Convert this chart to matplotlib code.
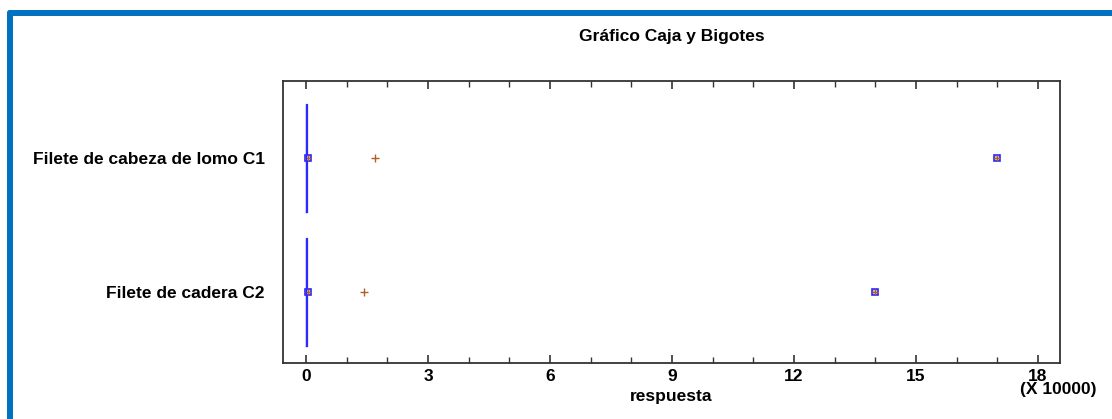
import matplotlib
matplotlib.use('Agg')
import matplotlib.pyplot as plt
from matplotlib.lines import Line2D
from matplotlib.ticker import MultipleLocator

# valores en unidades de 10000
categories = ['Filete de cabeza de lomo C1', 'Filete de cadera C2']
positions = [1, 0]
q1 = [0.0, 0.0]
medians = [0.005, 0.005]
q3 = [0.01, 0.01]
whisker_low = [0.0, 0.0]
whisker_high = [0.02, 0.02]
means = [1.70, 1.43]
near_outliers = [[0.04], [0.04]]
far_outliers = [[16.98], [14.0]]

plt.rcParams['font.family'] = ['Liberation Sans', 'DejaVu Sans']
plt.rcParams['font.weight'] = 'bold'
fs = 12.5

fig = plt.figure(figsize=(11.12, 4.19), dpi=100)
ax = fig.add_axes([0.2545, 0.1337, 0.6987, 0.673])

stats = []
for i in range(len(categories)):
    stats.append({
        'label': categories[i],
        'q1': q1[i], 'med': medians[i], 'q3': q3[i],
        'whislo': whisker_low[i], 'whishi': whisker_high[i],
        'mean': means[i], 'fliers': [],
    })

blue = '#2a2aff'
brown = '#b0602a'
ax.bxp(stats, positions=positions, orientation='horizontal', widths=0.81,
       showmeans=True, showcaps=False, showfliers=False,
       boxprops=dict(color=blue, linewidth=0.9),
       whiskerprops=dict(color=blue, linewidth=0.9),
       medianprops=dict(color=blue, linewidth=0.9),
       meanprops=dict(marker='+', markeredgecolor=brown, markersize=6, markeredgewidth=1.0))

for i in range(len(categories)):
    for v in near_outliers[i] + far_outliers[i]:
        ax.plot([v], [positions[i]], marker='s', markersize=5, mec=blue, mfc='#d8b090', mew=1.2, ls='none')
        ax.plot([v], [positions[i]], marker='+', markersize=4, mec=brown, mew=0.8, ls='none')

ax.set_xlim(-0.57, 18.54)
ax.set_ylim(-0.53, 1.575)
ax.set_yticks(positions)
ax.set_yticklabels(categories, fontsize=fs, fontweight='bold')
ax.tick_params(axis='y', length=0, pad=13)
ax.xaxis.set_major_locator(MultipleLocator(3))
ax.xaxis.set_minor_locator(MultipleLocator(1))
ax.tick_params(axis='x', which='both', direction='in', top=True, colors='#333333',
               labelcolor='black', labelsize=fs, pad=4)
ax.tick_params(axis='x', which='major', length=6, width=1.2)
ax.tick_params(axis='x', which='minor', length=4, width=1.0)
for sp in ax.spines.values():
    sp.set_color('#333333')
    sp.set_linewidth(1.3)

ax.set_xlabel('respuesta', fontsize=fs, fontweight='bold', labelpad=4)
ax.set_title('Gráfico Caja y Bigotes', fontsize=fs, fontweight='bold', pad=29)
fig.text(1058 / 1112, 1 - 389 / 419, '(X 10000)', ha='center', va='center',
         fontsize=fs, fontweight='bold')

# marco azul de la captura
frame = '#0070c0'
fig.add_artist(Line2D([0.0094, 1.0], [0.9678, 0.9678], color=frame, linewidth=4.3,
                      solid_capstyle='round', transform=fig.transFigure))
fig.add_artist(Line2D([0.0094, 0.0094], [0.9678, 0.0], color=frame, linewidth=4.3,
                      solid_capstyle='round', transform=fig.transFigure))

fig.savefig('out.png', dpi=100)
